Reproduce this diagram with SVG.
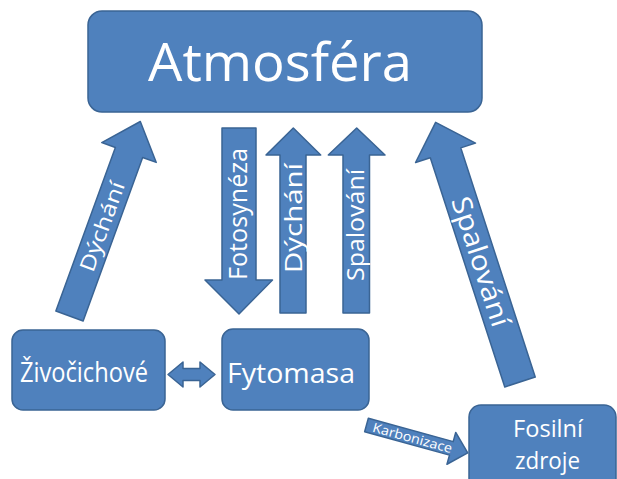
<svg xmlns="http://www.w3.org/2000/svg" width="617" height="479" viewBox="0 0 617 479">
<style>
.s{fill:#4F81BD;stroke:#3A6494;stroke-width:1.5;stroke-linejoin:round}
.t{fill:#FFFFFF;font-family:"Open Sans","Noto Sans","DejaVu Sans",sans-serif;text-anchor:middle}
</style>
<rect width="617" height="479" fill="#FFFFFF"/>
<g id="connectors">
<g id="c-dychani-left" transform="translate(69.5,316) rotate(20)">
<polygon class="s" points="-14.5,0 -14.5,-174 -29,-174 0,-207 29,-174 14.5,-174 14.5,0"/>
</g>
<text class="t" font-size="21" textLength="94" lengthAdjust="spacingAndGlyphs" transform="translate(102,226.5) rotate(-70)" x="0" y="7.5">Dýchání</text>
<g id="c-fotosynteza">
<polygon class="s" points="222,128 256,128 256,280 272.5,280 239,314 205,280 222,280"/>
</g>
<text class="t" font-size="26" textLength="132" lengthAdjust="spacingAndGlyphs" transform="translate(247,214) rotate(-90)" x="0" y="0">Fotosynéza</text>
<g id="c-dychani-mid">
<polygon class="s" points="280,313 280,155 266,155 293.3,128 320.7,155 306,155 306,313"/>
</g>
<text class="t" font-size="24" textLength="110" lengthAdjust="spacingAndGlyphs" transform="translate(301.5,218) rotate(-90)" x="0" y="0">Dýchání</text>
<g id="c-spalovani-mid">
<polygon class="s" points="343,313 343,155 328.3,155 356.7,128 385,155 369.5,155 369.5,313"/>
</g>
<text class="t" font-size="24" textLength="112" lengthAdjust="spacingAndGlyphs" transform="translate(364,225) rotate(-90)" x="0" y="0">Spalování</text>
<g id="c-spalovani-right" transform="translate(520,382) rotate(-18)">
<polygon class="s" points="-16,0 -16,-241 -31.5,-241 0,-273 31.5,-241 16,-241 16,0"/>
</g>
<text class="t" font-size="27" textLength="135" lengthAdjust="spacingAndGlyphs" transform="translate(481,261.5) rotate(72)" x="0" y="9.5">Spalování</text>
<g id="c-karbonizace" transform="translate(366.5,425) rotate(15.4)">
<polygon class="s" points="0,-7 88,-7 88,-16.5 105,0 88,16.5 88,7 0,7"/>
</g>
<text class="t" font-size="13" textLength="82" lengthAdjust="spacingAndGlyphs" transform="translate(412.5,438) rotate(15.4)" x="0" y="4.5">Karbonizace</text>
<g id="c-vymena">
<polygon class="s" points="168,374.5 183,362 183,368.5 200,368.5 200,362 215,374.5 200,387 200,380.5 183,380.5 183,387"/>
</g>
</g>
<g id="atmosfera">
<rect class="s" x="88" y="11" width="394" height="101" rx="14"/>
<text class="t" font-size="53" textLength="264" lengthAdjust="spacingAndGlyphs" x="280" y="81">Atmosféra</text>
</g>
<g id="zivocichove">
<rect class="s" x="12" y="330" width="153" height="80" rx="11"/>
<text class="t" font-size="27" textLength="128" lengthAdjust="spacingAndGlyphs" x="84" y="382">Živočichové</text>
</g>
<g id="fytomasa">
<rect class="s" x="222" y="329" width="147" height="81" rx="11"/>
<text class="t" font-size="27" textLength="128" lengthAdjust="spacingAndGlyphs" x="291" y="383">Fytomasa</text>
</g>
<g id="fosilni-zdroje">
<rect class="s" x="469" y="405" width="147" height="90" rx="12"/>
<text class="t" font-size="23" textLength="70" lengthAdjust="spacingAndGlyphs" x="548" y="437">Fosilní</text>
<text class="t" font-size="23" textLength="65" lengthAdjust="spacingAndGlyphs" x="547.5" y="469">zdroje</text>
</g>
</svg>
